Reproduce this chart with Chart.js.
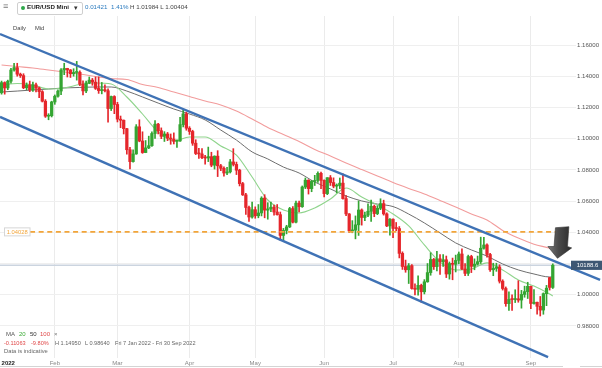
<!DOCTYPE html>
<html><head><meta charset="utf-8">
<script src="https://cdn.jsdelivr.net/npm/chart.js@4.4.1/dist/chart.umd.min.js"></script>
<style>
html,body{margin:0;padding:0;background:#fff;}
#wrap{position:relative;width:602px;height:368px;overflow:hidden;font-family:"Liberation Sans",Arial,sans-serif;}
#c{position:absolute;left:0;top:0;}
.t{position:absolute;white-space:nowrap;line-height:1;}
</style></head><body>
<div id="wrap">
<canvas id="c" width="602" height="368"></canvas>
<div class="t" style="left:3px;top:2px;font-size:9px;color:#777;">&#8801;</div>
<div style="position:absolute;left:17px;top:1.5px;width:64px;height:11px;border:1px solid #cfcfcf;border-radius:2px;"></div>
<div style="position:absolute;left:21px;top:5.5px;width:4px;height:4px;border-radius:50%;background:#2ea84a;"></div>
<div class="t" style="left:27px;top:4.3px;font-size:6.2px;color:#222;font-weight:bold;">EUR/USD Mini</div>
<div class="t" style="left:74px;top:3.6px;font-size:7px;color:#333;">&#9662;</div>
<div class="t" style="left:85px;top:4.3px;font-size:6.2px;color:#2b7bbf;">0.01421</div>
<div class="t" style="left:111px;top:4.3px;font-size:6.2px;color:#2b7bbf;">1.41%</div>
<div class="t" style="left:130px;top:4.3px;font-size:6.2px;color:#444;">H 1.01984 L 1.00404</div>
<div class="t" style="left:13px;top:26.3px;font-size:5.8px;color:#444;">Daily</div>
<div class="t" style="left:35px;top:26.3px;font-size:5.8px;color:#444;">Mid</div>
<div class="t" style="left:6px;top:331px;font-size:6px;color:#555;">MA</div>
<div class="t" style="left:19px;top:331px;font-size:6px;color:#3aaa35;">20</div>
<div class="t" style="left:30px;top:331px;font-size:6px;color:#333;">50</div>
<div class="t" style="left:40px;top:331px;font-size:6px;color:#e04848;">100</div>
<div class="t" style="left:54px;top:331px;font-size:6px;color:#777;">&#215;</div>
<div class="t" style="left:4px;top:341.2px;font-size:5.6px;color:#e04848;">-0.11063</div>
<div class="t" style="left:31px;top:341.2px;font-size:5.6px;color:#e04848;">-9.80%</div>
<div class="t" style="left:55px;top:341.2px;font-size:5.6px;color:#666;">H 1.14950</div>
<div class="t" style="left:85px;top:341.2px;font-size:5.6px;color:#666;">L 0.98640</div>
<div class="t" style="left:115px;top:341.2px;font-size:5.6px;color:#666;">Fri 7 Jan 2022 - Fri 30 Sep 2022</div>
<div class="t" style="left:4px;top:349.2px;font-size:5.8px;color:#666;">Data is indicative</div>
<div style="position:absolute;left:0;top:366px;width:563px;height:1px;background:#d4d4d4;"></div>
<div style="position:absolute;left:580px;top:366px;width:22px;height:1px;background:#d4d4d4;"></div>
</div>
<script>
// ---------- categories ----------
const tradingDayStart = '2022-01-07';
const slotCount = 182;
const monthNames = ['Jan','Feb','Mar','Apr','May','Jun','Jul','Aug','Sep','Oct','Nov','Dec'];
const yearLabel = '2022';

// ---------- daily candles (Jan 7 .. Sep 12, 2022) ----------
const opens = [
1.1294,1.1359,1.1325,1.1368,1.1440,1.1455,1.1413,1.1404,1.1326,1.1344,1.1312,1.1345,1.1325,1.1301,1.1240,1.1144,1.1147,
1.1235,1.1272,1.1305,1.1440,1.1450,1.1440,1.1416,1.1424,1.1425,1.1349,1.1306,1.1357,1.1375,1.1362,1.1322,1.1308,1.1310,1.1307,1.1193,1.1270,
1.1219,1.1125,1.1118,1.1064,1.0929,1.0853,1.0902,1.1076,1.0985,1.0911,1.0941,1.0955,1.1033,1.1093,1.1051,1.1015,1.1030,1.1004,1.0997,1.0983,1.0985,1.1090,1.1159,
1.1067,1.1046,1.0971,1.0905,1.0902,1.0878,1.0876,1.0885,1.0830,1.0888,1.0826,1.0810,1.0780,1.0787,1.0851,1.0835,1.0798,1.0712,1.0640,1.0559,1.0498,
1.0545,1.0506,1.0524,1.0619,1.0542,1.0550,1.0561,1.0530,1.0513,1.0380,1.0412,1.0435,1.0552,1.0465,1.0587,1.0564,1.0690,1.0734,1.0680,1.0726,1.0732,1.0778,
1.0733,1.0648,1.0750,1.0719,1.0696,1.0700,1.0715,1.0616,1.0518,1.0409,1.0414,1.0448,1.0543,1.0495,1.0510,1.0535,1.0567,1.0520,1.0554,1.0584,1.0518,1.0441,
1.0484,1.0425,1.0424,1.0265,1.0181,1.0160,1.0186,1.0040,1.0035,1.0060,1.0019,1.0083,1.0142,1.0226,1.0180,1.0230,1.0212,1.0224,1.0133,1.0200,1.0195,
1.0220,1.0261,1.0165,1.0137,1.0245,1.0182,1.0196,1.0212,1.0298,1.0319,1.0258,1.0160,1.0169,1.0178,1.0087,1.0040,0.9943,0.9970,0.9969,0.9974,0.9966,1.0002,1.0020,
1.0054,0.9944,0.9952,0.9926,0.9902,1.0007,1.0110,1.0047];
const highs = [
1.1369,1.1364,1.1375,1.1450,1.1482,1.1483,1.1420,1.1416,1.1357,1.1369,1.1363,1.1356,1.1330,1.1308,1.1250,1.1160,1.1240,
1.1280,1.1313,1.1449,1.1483,1.1451,1.1443,1.1448,1.1495,1.1434,1.1370,1.1369,1.1395,1.1386,1.1395,1.1396,1.1360,1.1345,1.1320,1.1273,1.1275,
1.1233,1.1145,1.1120,1.1066,1.0945,1.0928,1.1090,1.1121,1.1044,1.0988,1.1016,1.1043,1.1116,1.1098,1.1069,1.1045,1.1040,1.1030,1.1037,1.0992,1.1137,1.1184,1.1170,
1.1077,1.1054,1.0993,1.0938,1.0937,1.0893,1.0946,1.0913,1.0890,1.0923,1.0835,1.0820,1.0817,1.0867,1.0936,1.0850,1.0804,1.0720,1.0650,1.0568,1.0593,
1.0563,1.0578,1.0628,1.0641,1.0590,1.0593,1.0575,1.0578,1.0530,1.0425,1.0445,1.0560,1.0565,1.0600,1.0600,1.0697,1.0748,1.0737,1.0733,1.0765,1.0787,1.0786,
1.0737,1.0750,1.0764,1.0749,1.0710,1.0748,1.0774,1.0635,1.0520,1.0475,1.0505,1.0601,1.0550,1.0530,1.0582,1.0606,1.0575,1.0570,1.0615,1.0606,1.0525,1.0488,
1.0486,1.0463,1.0437,1.0275,1.0222,1.0200,1.0193,1.0070,1.0122,1.0068,1.0097,1.0200,1.0269,1.0233,1.0278,1.0258,1.0258,1.0248,1.0210,1.0235,1.0254,
1.0274,1.0294,1.0200,1.0254,1.0253,1.0230,1.0248,1.0369,1.0368,1.0327,1.0266,1.0202,1.0202,1.0192,1.0096,1.0050,1.0018,0.9999,1.0032,1.0090,1.0028,1.0055,1.0080,
1.0055,1.0033,0.9953,0.9989,1.0012,1.0060,1.0112,1.0198];
const lows = [
1.1285,1.1285,1.1314,1.1355,1.1433,1.1400,1.1392,1.1320,1.1313,1.1301,1.1302,1.1300,1.1263,1.1235,1.1136,1.1121,1.1139,
1.1220,1.1265,1.1282,1.1410,1.1395,1.1392,1.1400,1.1375,1.1339,1.1280,1.1294,1.1352,1.1342,1.1315,1.1290,1.1287,1.1300,1.1106,1.1180,1.1160,
1.1107,1.1070,1.1030,1.0900,1.0806,1.0850,1.0900,1.0980,1.0906,1.0910,1.0936,1.0950,1.1002,1.1030,1.1000,1.0982,1.0987,1.0964,1.0966,1.0944,1.0983,1.1075,1.1054,
1.1027,1.0957,1.0898,1.0874,1.0872,1.0837,1.0853,1.0820,1.0805,1.0757,1.0795,1.0760,1.0770,1.0780,1.0825,1.0770,1.0697,1.0636,1.0515,1.0470,1.0490,
1.0490,1.0493,1.0505,1.0493,1.0484,1.0533,1.0510,1.0510,1.0350,1.0349,1.0390,1.0430,1.0460,1.0460,1.0530,1.0560,1.0680,1.0645,1.0660,1.0700,1.0720,1.0680,
1.0627,1.0641,1.0700,1.0685,1.0653,1.0680,1.0612,1.0506,1.0398,1.0397,1.0358,1.0380,1.0446,1.0475,1.0500,1.0470,1.0500,1.0513,1.0545,1.0510,1.0436,1.0382,
1.0366,1.0410,1.0236,1.0162,1.0144,1.0072,1.0036,0.9999,0.9998,0.9952,1.0005,1.0080,1.0125,1.0162,1.0153,1.0130,1.0181,1.0110,1.0100,1.0096,1.0146,
1.0198,1.0160,1.0123,1.0123,1.0142,1.0160,1.0190,1.0200,1.0292,1.0240,1.0150,1.0122,1.0150,1.0075,1.0030,0.9926,0.9900,0.9900,0.9950,0.9952,0.9914,0.9984,0.9976,
0.9911,0.9940,0.9876,0.9864,0.9875,0.9930,1.0030,1.0040];
const closes = [
1.1359,1.1325,1.1368,1.1440,1.1455,1.1413,1.1404,1.1326,1.1344,1.1312,1.1345,1.1325,1.1301,1.1240,1.1144,1.1147,1.1235,
1.1272,1.1305,1.1440,1.1450,1.1440,1.1416,1.1424,1.1425,1.1349,1.1306,1.1357,1.1375,1.1362,1.1322,1.1308,1.1310,1.1307,1.1193,1.1270,1.1219,
1.1125,1.1118,1.1064,1.0929,1.0853,1.0902,1.1076,1.0985,1.0911,1.0941,1.0955,1.1033,1.1093,1.1051,1.1015,1.1030,1.1004,1.0997,1.0983,1.0985,1.1090,1.1159,1.1067,
1.1046,1.0971,1.0905,1.0902,1.0878,1.0876,1.0885,1.0830,1.0888,1.0826,1.0810,1.0780,1.0787,1.0851,1.0835,1.0798,1.0712,1.0640,1.0559,1.0498,1.0545,
1.0506,1.0524,1.0619,1.0542,1.0550,1.0561,1.0530,1.0513,1.0380,1.0412,1.0435,1.0552,1.0465,1.0587,1.0564,1.0690,1.0734,1.0680,1.0726,1.0732,1.0778,1.0733,
1.0648,1.0750,1.0719,1.0696,1.0700,1.0715,1.0616,1.0518,1.0409,1.0414,1.0448,1.0543,1.0495,1.0510,1.0535,1.0567,1.0520,1.0554,1.0584,1.0518,1.0441,1.0484,
1.0425,1.0424,1.0265,1.0181,1.0160,1.0186,1.0040,1.0035,1.0060,1.0019,1.0083,1.0142,1.0226,1.0180,1.0230,1.0212,1.0224,1.0133,1.0200,1.0195,1.0220,
1.0261,1.0165,1.0137,1.0245,1.0182,1.0196,1.0212,1.0298,1.0319,1.0258,1.0160,1.0169,1.0178,1.0087,1.0040,0.9943,0.9970,0.9969,0.9974,0.9966,1.0002,1.0020,1.0054,
0.9944,0.9952,0.9926,0.9902,1.0007,1.0042,1.0047,1.0189];

// ---------- moving averages (every 5 sessions) ----------
const maIndex = [0,5,10,15,20,25,30,35,40,45,50,55,60,65,70,75,80,85,90,95,100,105,110,115,120,125,130,135,140,145,150,155,160,165,170,175,176];
const ma20 = [1.1344,1.1353,1.1344,1.1318,1.1325,1.1347,1.1357,1.1350,1.1267,1.1158,1.1043,1.0985,1.1011,1.1011,1.0953,1.0895,1.0754,1.0607,1.0543,1.0524,1.0556,1.0613,1.0684,1.0626,1.0575,1.0517,1.0441,1.0319,1.0210,1.0159,1.0165,1.0204,1.0159,1.0095,1.0056,1.0005,0.9992];
const ma50 = [1.1299,1.1305,1.1312,1.1318,1.1325,1.1328,1.1331,1.1331,1.1305,1.1267,1.1228,1.1190,1.1158,1.1120,1.1055,1.0991,1.0915,1.0870,1.0818,1.0780,1.0722,1.0678,1.0633,1.0601,1.0581,1.0565,1.0517,1.0460,1.0396,1.0332,1.0287,1.0248,1.0197,1.0159,1.0133,1.0114,1.0114];
const ma100 = [1.1472,1.1462,1.1453,1.1440,1.1427,1.1414,1.1398,1.1385,1.1379,1.1347,1.1328,1.1299,1.1270,1.1241,1.1216,1.1177,1.1126,1.1072,1.1027,1.0982,1.0931,1.0889,1.0844,1.0802,1.0761,1.0719,1.0681,1.0645,1.0604,1.0562,1.0517,1.0479,1.0412,1.0363,1.0324,1.0298,1.0291];

// ---------- drawn channel, level and price ----------
const channelUpper = [{x:-0.5, y:1.1670},{x:191.1, y:1.0095}];
const channelLower = [{x:-0.5, y:1.1139},{x:174.5, y:0.9601}];
const levelValue = 1.04028, levelText = '1.04028';
const levelSpan = [9.1, 182.1];
const lastPrice = 1.01886, lastPriceText = '10188.6';
const arrowTip = {x:177.5, y:1.02335};

// y range and ticks
const yMin = 0.95948, yMax = 1.17858, yStep = 0.02;

// ---------- build ----------
function buildDays(){
  const out=[]; const d=new Date(tradingDayStart+'T00:00:00Z');
  while(out.length<slotCount){ const w=d.getUTCDay(); if(w!==0&&w!==6) out.push(d.toISOString().slice(0,10)); d.setUTCDate(d.getUTCDate()+1); }
  return out;
}
const days = buildDays();
const isMonthStart = i => i>0 && days[i].slice(5,7)!==days[i-1].slice(5,7);
const GREEN='#34a532', RED='#e5262b', BLUE='#3f72b5', ORANGE='#f2a53a';
const FONT='"Liberation Sans", Arial, sans-serif';
Chart.defaults.font.family = FONT;

const dirColor = opens.map((o,i)=> closes[i]>=o ? GREEN : RED);
const maPts = arr => arr.map((v,k)=>({x:maIndex[k], y:v}));

const annot = {
  id:'annot',
  afterDatasetsDraw(chart){
    const {ctx, chartArea:a, scales} = chart; const y=scales.y, xl=scales.xl;
    ctx.save();
    ctx.textAlign='center'; ctx.textBaseline='middle';
    // level label
    const yo = y.getPixelForValue(levelValue);
    ctx.fillStyle='#fff'; ctx.strokeStyle='#d6d6d6'; ctx.lineWidth=1;
    ctx.fillRect(4.5, yo-4, 25.5, 8); ctx.strokeRect(4.5, yo-4, 25.5, 8);
    ctx.font='5.8px '+FONT; ctx.fillStyle=ORANGE;
    ctx.fillText(levelText, 17.2, yo+0.4);
    // arrow
    const tx = xl.getPixelForValue(arrowTip.x), ty = y.getPixelForValue(arrowTip.y);
    const pts=[[-2,-30.6],[11.4,-31.6],[10,-11.8],[14.2,-10.4],[0,0],[-9.6,-11.8],[-3.4,-11.8]];
    const g = ctx.createLinearGradient(tx-10,0,tx+14,0);
    g.addColorStop(0,'#7a7a7a'); g.addColorStop(0.45,'#4b4b4b'); g.addColorStop(1,'#2c2c2c');
    ctx.beginPath(); pts.forEach((p,k)=>{ k?ctx.lineTo(tx+p[0],ty+p[1]):ctx.moveTo(tx+p[0],ty+p[1]); }); ctx.closePath();
    ctx.fillStyle=g; ctx.fill(); ctx.strokeStyle='#333'; ctx.lineWidth=0.6; ctx.stroke();
    // price label
    const yp = y.getPixelForValue(lastPrice);
    ctx.fillStyle='#3e5773'; ctx.fillRect(a.right+1, yp-4.6, chart.width-a.right-1, 9.2);
    ctx.fillStyle='#fff'; ctx.font='6px '+FONT;
    ctx.fillText(lastPriceText, (a.right+1+chart.width)/2+1, yp+0.4);
    ctx.restore();
  }
};

new Chart(document.getElementById('c'), {
  type:'bar',
  data:{
    labels: days,
    datasets:[
      {type:'line', xAxisID:'xl', data:channelUpper, borderColor:BLUE, borderWidth:2.4, pointRadius:0, clip:false, order:1},
      {type:'line', xAxisID:'xl', data:channelLower, borderColor:BLUE, borderWidth:2.4, pointRadius:0, clip:false, order:1},
      {type:'line', xAxisID:'xl', data:[{x:levelSpan[0],y:levelValue},{x:levelSpan[1],y:levelValue}], borderColor:ORANGE, borderWidth:1.6, borderDash:[5,3.6], pointRadius:0, clip:false, order:2},
      {data: opens.map((o,i)=>[o, closes[i]]), backgroundColor:dirColor, barThickness:2.6, minBarLength:1, grouped:false, order:4},
      {data: lows.map((l,i)=>[l, highs[i]]), backgroundColor:dirColor, barThickness:1, grouped:false, order:5},
      {type:'line', xAxisID:'xl', data:maPts(ma20), borderColor:'#8fd48c', borderWidth:1.1, pointRadius:0, cubicInterpolationMode:'monotone', order:7},
      {type:'line', xAxisID:'xl', data:maPts(ma50), borderColor:'#6e6e6e', borderWidth:1, pointRadius:0, cubicInterpolationMode:'monotone', order:8},
      {type:'line', xAxisID:'xl', data:maPts(ma100), borderColor:'#f29c9c', borderWidth:1.1, pointRadius:0, cubicInterpolationMode:'monotone', order:9},
      {type:'line', xAxisID:'xl', data:[{x:-0.5,y:lastPrice},{x:slotCount-0.5,y:lastPrice}], borderColor:'#cbd4df', borderWidth:1.5, pointRadius:0, order:12}
    ]
  },
  options:{
    responsive:false, animation:false, devicePixelRatio:1,
    layout:{padding:{top:16,left:0,right:0,bottom:0}},
    plugins:{legend:{display:false}, tooltip:{enabled:false}},
    scales:{
      x:{
        type:'category', offset:true,
        afterFit:s=>{s.height=10;},
        border:{display:false},
        grid:{offset:false, drawTicks:false, color:c=> isMonthStart(c.index)?'#ebebeb':'rgba(0,0,0,0)'},
        ticks:{autoSkip:false, maxRotation:0, minRotation:0, padding:1.5, align:'inner',
          font:c=>({size:6, weight: c.index===0?'bold':'normal', family:FONT}),
          color:c=> c.index===0?'#222':'#888',
          callback:(v,i)=> i===0 ? yearLabel : (isMonthStart(i) ? monthNames[+days[i].slice(5,7)-1] : '')}
      },
      xl:{type:'linear', display:false, offset:false, grid:{offset:false}, min:-0.5, max:slotCount-0.5},
      y:{
        position:'right', min:yMin, max:yMax,
        afterFit:s=>{s.width=32;},
        border:{display:false},
        grid:{color:c=> (c.tick && c.tick.value>0.97)?'#efefef':'rgba(0,0,0,0)', tickLength:6},
        ticks:{stepSize:yStep, includeBounds:false, padding:1, color:'#555', font:{size:6.1, family:FONT},
          callback:v=> (v>0.97 && v<1.17) ? v.toFixed(5) : ''}
      }
    }
  },
  plugins:[annot]
});
</script>
</body></html>
